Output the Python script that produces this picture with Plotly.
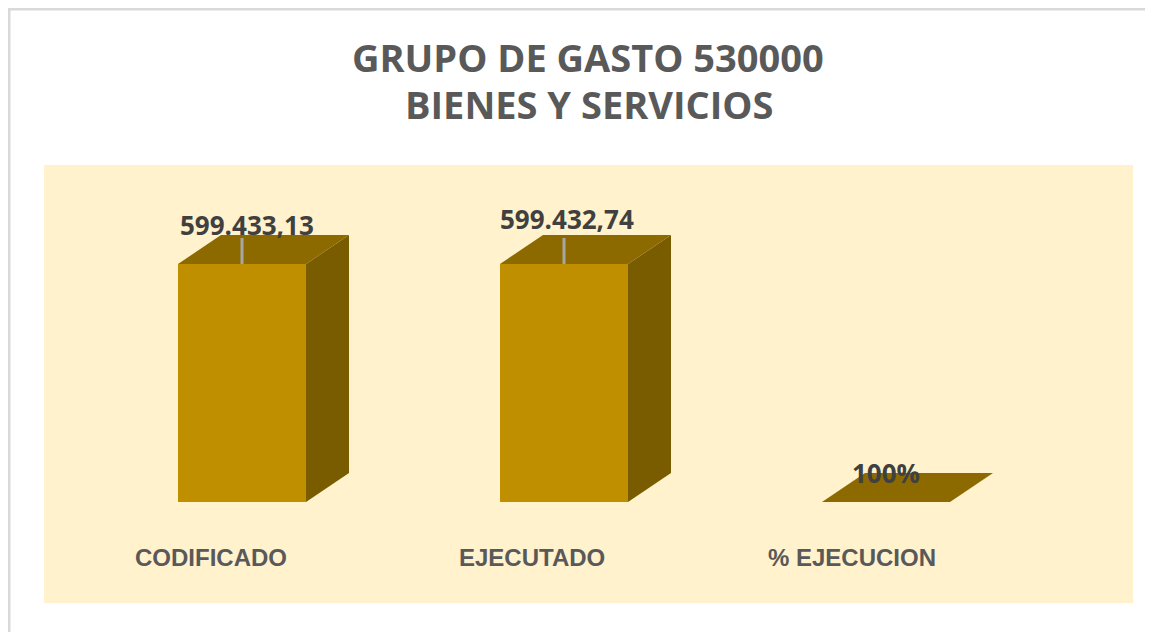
import plotly.graph_objects as go

categories = ["CODIFICADO", "EJECUTADO", "% EJECUCION"]
values = [599433.13, 599432.74, 1.0]
value_labels = ["599.433,13", "599.432,74", "100%"]
title_lines = ["GRUPO DE GASTO 530000", "BIENES Y SERVICIOS"]

# page body has an 8px margin; work in screen pixels and offset
OFF = 8
SW, SH = 1153, 632
W, H = SW - OFF, SH - OFF
PL, PR, PT, PB = 44, 1133, 165, 603      # plot area in screen px
ML, MR, MT, MB = PL - OFF, SW - PR, PT - OFF, SH - PB
PX_X = 322.0
UNIT_PER_PX = 599433.13 / 238.0
BASE_Y = 502
x_range = [-(242 - PL) / PX_X, (PR - 242) / PX_X]
y_range = [-(PB - BASE_Y) * UNIT_PER_PX, (BASE_Y - PT) * UNIT_PER_PX]

bw = 128 / PX_X
ddx = 43 / PX_X
ddy = 29 * UNIT_PER_PX

FRONT = "#BF8F00"
SIDE = "#7A5C00"
TOP = "#8C6A00"

xs = list(range(len(categories)))
fig = go.Figure()

for i, v in zip(xs, values):
    x1 = i + bw / 2
    fig.add_trace(go.Scatter(
        x=[x1, x1 + ddx, x1 + ddx, x1, x1], y=[0, ddy, v + ddy, v, 0],
        mode="lines", fill="toself", fillcolor=SIDE, line=dict(width=0, color=SIDE),
        hoverinfo="skip", showlegend=False))
fig.add_trace(go.Bar(x=xs, y=values, width=bw, marker=dict(color=FRONT, line=dict(width=0)),
                     showlegend=False, hoverinfo="skip"))
for i, v in zip(xs, values):
    x0, x1 = i - bw / 2, i + bw / 2
    fig.add_trace(go.Scatter(
        x=[x0, x0 + ddx, x1 + ddx, x1, x0], y=[v, v + ddy, v + ddy, v, v],
        mode="lines", fill="toself", fillcolor=TOP, line=dict(width=0, color=TOP),
        hoverinfo="skip", showlegend=False))
for i, v in zip(xs[:2], values[:2]):
    fig.add_trace(go.Scatter(x=[i, i], y=[v, v + 26 * UNIT_PER_PX], mode="lines",
                             line=dict(color="#A6A6A6", width=3), hoverinfo="skip", showlegend=False))

annotations = []
label_shift = [(5, 10), (3, 16), (0, 0)]
for i, (v, t) in enumerate(zip(values, value_labels)):
    dxp, dyp = label_shift[i]
    annotations.append(dict(x=i, y=v + ddy, xref="x", yref="y", text="<b>%s</b>" % t,
                            showarrow=False, xshift=dxp, yshift=dyp, yanchor="middle",
                            font=dict(family="Open Sans", size=26, color="#404040")))
cat_shift = [-31, -32, -34]
for i, c in enumerate(categories):
    annotations.append(dict(x=i, y=0, xref="x", yref="y", text="<b>%s</b>" % c,
                            showarrow=False, xshift=cat_shift[i], yshift=-55, yanchor="middle",
                            font=dict(family="Liberation Sans, Arial, sans-serif",
                                      size=24, color="#595959")))

pw, ph = PR - PL, PB - PT
def px2paper_x(px):
    return (px - PL) / pw
def py2paper_y(py):
    return (PB - py) / ph

annotations.append(dict(x=px2paper_x(588), y=py2paper_y(57), xref="paper", yref="paper",
                        text="<b>%s</b>" % title_lines[0], showarrow=False, yanchor="middle",
                        font=dict(family="Open Sans", size=38, color="#595959")))
annotations.append(dict(x=px2paper_x(589), y=py2paper_y(104), xref="paper", yref="paper",
                        text="<b>%s</b>" % title_lines[1], showarrow=False, yanchor="middle",
                        font=dict(family="Open Sans", size=38, color="#595959")))

shapes = [
    dict(type="line", xref="paper", yref="paper", x0=px2paper_x(9), x1=px2paper_x(9),
         y0=py2paper_y(8), y1=py2paper_y(SH + 5), line=dict(color="#D9D9D9", width=3)),
    dict(type="line", xref="paper", yref="paper", x0=px2paper_x(8), x1=px2paper_x(SW + 5),
         y0=py2paper_y(9), y1=py2paper_y(9), line=dict(color="#D9D9D9", width=3)),
]

fig.update_layout(
    width=W, height=H, margin=dict(l=ML, r=MR, t=MT, b=MB),
    paper_bgcolor="white", plot_bgcolor="#FFF2CC",
    xaxis=dict(range=x_range, showgrid=False, zeroline=False, showticklabels=False, fixedrange=True),
    yaxis=dict(range=y_range, showgrid=False, zeroline=False, showticklabels=False, fixedrange=True),
    annotations=annotations, shapes=shapes, showlegend=False, barmode="overlay",
)

fig.write_html("out.html")
